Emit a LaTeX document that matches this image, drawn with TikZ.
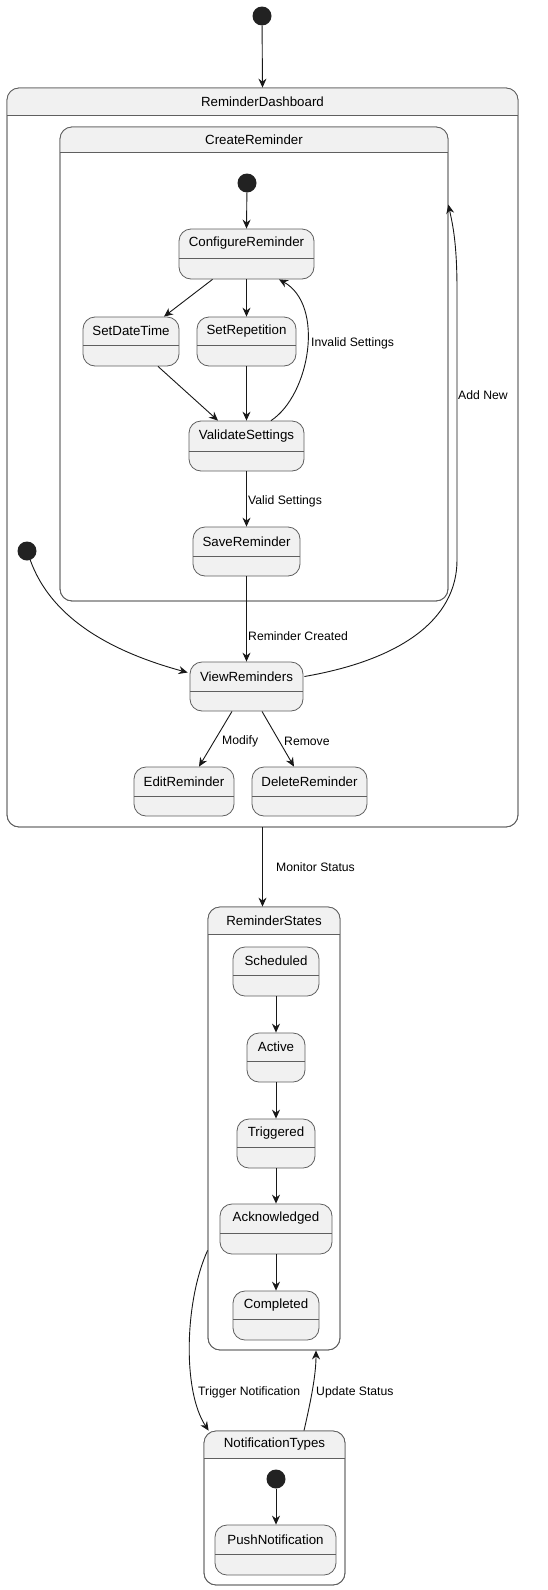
\documentclass[tikz,border=0pt]{standalone}
\usepackage{fontspec}
\setmainfont{Liberation Sans}
\usetikzlibrary{arrows.meta,calc}

\definecolor{stfill}{HTML}{F1F1F1}
\definecolor{stline}{HTML}{5F5F5F}
\definecolor{arr}{HTML}{181818}
\definecolor{dot}{HTML}{222222}

\tikzset{
  stbox/.style={rectangle, draw=stline, fill=stfill, line width=0.8pt, rounded corners=12pt, inner sep=0pt},
  compbox/.style={rectangle, draw=stline, fill=white, line width=0.8pt, rounded corners=12pt, inner sep=0pt},
  divider/.style={draw=stline, line width=0.8pt},
  sttitle/.style={font=\fontsize{13.3}{15}\selectfont, inner sep=0pt},
  tlabel/.style={font=\fontsize{12.2}{14}\selectfont, inner sep=0pt, anchor=west},
  tr/.style={draw=arr, line width=0.9pt, -{Stealth[length=9pt,width=8pt,inset=3pt]}},
  initdot/.style={circle, fill=dot, minimum size=19pt, inner sep=0pt},
}

% simple state: name, x1, y1, x2, y2, y of divider, title
\newcommand{\simstate}[7]{%
  \pgfmathsetmacro\ssX{(#2+#4)/2}%
  \pgfmathsetmacro\ssY{(#3+#5)/2}%
  \pgfmathsetmacro\ssW{#4-#2}%
  \pgfmathsetmacro\ssH{#5-#3}%
  \node[stbox, minimum width=\ssW pt, minimum height=\ssH pt] (#1) at (\ssX,\ssY) {};
  \draw[divider] (#2,#6) -- (#4,#6);
  \node[sttitle] (#1-title) at (\ssX,{(#3+#6)/2}) {#7};
}

% composite state: white body, grey header strip
\newcommand{\compstate}[7]{%
  \pgfmathsetmacro\ssX{(#2+#4)/2}%
  \pgfmathsetmacro\ssY{(#3+#5)/2}%
  \pgfmathsetmacro\ssW{#4-#2}%
  \pgfmathsetmacro\ssH{#5-#3}%
  \node[compbox, minimum width=\ssW pt, minimum height=\ssH pt] (#1) at (\ssX,\ssY) {};
  \begin{scope}
    \clip[rounded corners=12pt] (#2,#3) rectangle (#4,#5);
    \fill[stfill] (#2,#3) rectangle (#4,#6);
  \end{scope}
  \draw[draw=stline, line width=0.8pt, rounded corners=12pt] (#2,#3) rectangle (#4,#5);
  \draw[divider] (#2,#6) -- (#4,#6);
  \node[sttitle] (#1-title) at (\ssX,{(#3+#6)/2}) {#7};
}

\begin{document}
\begin{tikzpicture}[x=1pt,y=-1pt]
  \useasboundingbox (0,0) rectangle (547,1590);

  % ---- dashboard and its creation sub-flow
  \compstate{dash}{7}{88}{518}{827}{115}{ReminderDashboard}
  \compstate{cr}{60}{127}{448}{601}{152}{CreateReminder}
  \simstate{cfg}{179}{229}{314}{279}{258}{ConfigureReminder}
  \simstate{sdt}{83}{317}{179}{366}{345}{SetDateTime}
  \simstate{srep}{197}{317}{296}{366}{345}{SetRepetition}
  \simstate{val}{189}{421}{304}{471}{451}{ValidateSettings}
  \simstate{save}{193}{527}{300}{576}{556}{SaveReminder}
  \simstate{view}{190}{662}{303}{711}{691}{ViewReminders}
  \simstate{edit}{134}{767}{234}{816}{796}{EditReminder}
  \simstate{del}{252}{767}{367}{816}{796}{DeleteReminder}

  % ---- reminder lifecycle
  \compstate{rs}{208}{907}{340}{1350}{934}{ReminderStates}
  \simstate{sch}{233}{947}{319}{996}{975}{Scheduled}
  \simstate{act}{247}{1033}{305}{1082}{1061}{Active}
  \simstate{trig}{237}{1119}{315}{1168}{1147}{Triggered}
  \simstate{ack}{220}{1204}{332}{1254}{1233}{Acknowledged}
  \simstate{comp}{233}{1291}{319}{1340}{1319}{Completed}

  % ---- notifications
  \compstate{nt}{204}{1431}{345}{1585}{1458}{NotificationTypes}
  \simstate{push}{215}{1525}{336}{1575}{1554}{PushNotification}

  % ---- initial pseudo-states
  \node[initdot] (i0) at (262,16) {};
  \node[initdot] (icr) at (247,183) {};
  \node[initdot] (idash) at (27,551) {};
  \node[initdot] (int) at (276,1479) {};

  % ---- transitions
  \draw[tr] (i0) -- (dash.north);
  \draw[tr] (icr) -- (cfg.north);
  \draw[tr] ($(cfg.south)+(-34,0)$) -- ($(sdt.north)+(33,0)$);
  \draw[tr] (cfg.south) -- (srep.north);
  \draw[tr] ($(sdt.south)+(27,0)$) -- ($(val.north)+(-28.5,0)$);
  \draw[tr] (srep.south) -- (val.north);
  \draw[tr] ($(val.north)+(24.5,0)$) .. controls (310,395) and (325,305) .. ($(cfg.south)+(32.5,0)$);
  \node[tlabel] (l-inv) at (311,343) {Invalid Settings};

  \draw[tr] (val.south) -- (save.north);
  \node[tlabel] (l-valid) at (248,501) {Valid Settings};

  \draw[tr] (save.south) -- (view.north);
  \node[tlabel] (l-created) at (248,636) {Reminder Created};

  \draw[tr] (idash) .. controls (50,615) and (105,650) .. ($(view.west)+(-2,-14)$);

  \draw[tr] ($(view.east)+(1,-10)$) .. controls (400,660) and (457,620) .. (457,560)
    -- (457,290) .. controls (457,240) and (452,222) .. ($(cr.north east)+(0,78)$);
  \node[tlabel] (l-add) at (458,395) {Add New};

  \draw[tr] ($(view.south)+(-14.5,0)$) -- ($(edit.north)+(15,0)$);
  \node[tlabel] (l-mod) at (222,741) {Modify};
  \draw[tr] ($(view.south)+(15.5,0)$) -- ($(del.north)+(-15.5,0)$);
  \node[tlabel] (l-rem) at (284,741) {Remove};

  \draw[tr] (dash.south) -- (dash.south |- rs.north);
  \node[tlabel] (l-mon) at (276,867) {Monitor Status};

  \draw[tr] (sch.south) -- (sch.south |- act.north);
  \draw[tr] (act.south) -- (act.south |- trig.north);
  \draw[tr] (trig.south) -- (trig.south |- ack.north);
  \draw[tr] (ack.south) -- (ack.south |- comp.north);

  \draw[tr] ($(rs.south west)+(0,-100)$) .. controls (185,1300) and (182,1390) .. ($(nt.north west)+(5,0)$);
  \node[tlabel] (l-trig) at (198,1392) {Trigger Notification};
  \draw[tr] ($(nt.north)+(29.5,0)$) .. controls (311,1400) and (316,1375) .. ($(rs.south)+(42,0)$);
  \node[tlabel] (l-upd) at (316,1392) {Update Status};

  \draw[tr] (int) -- (int |- push.north);
\end{tikzpicture}
\end{document}
